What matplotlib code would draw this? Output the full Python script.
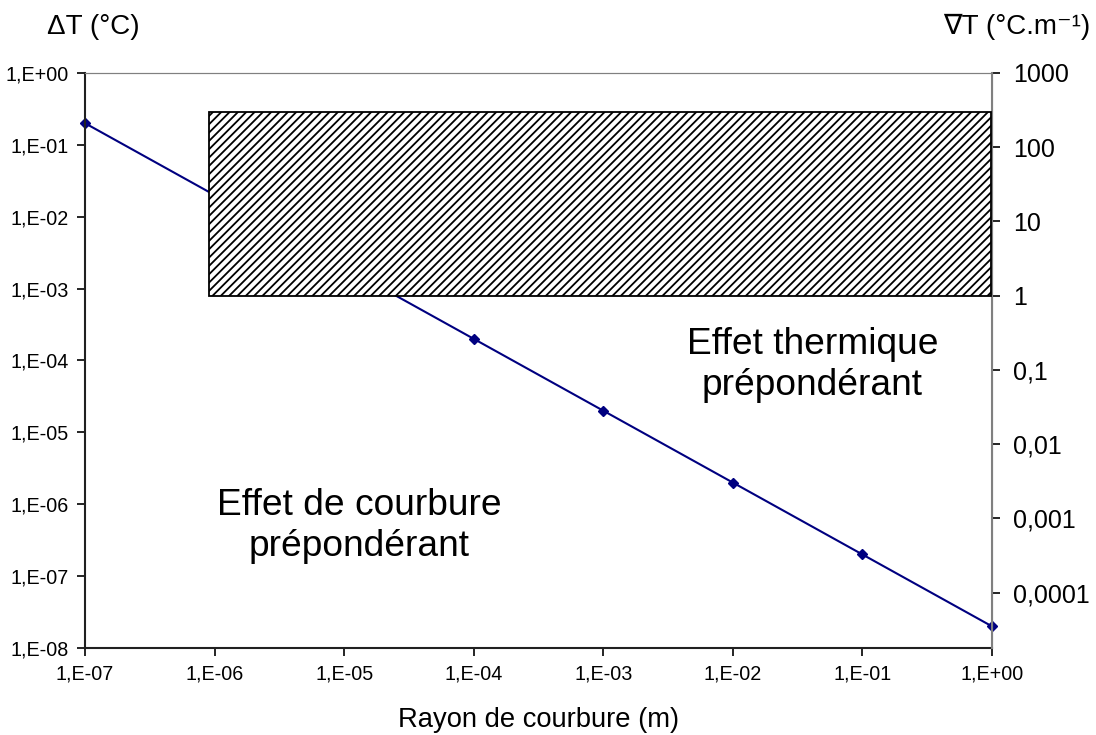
import numpy as np
import matplotlib
matplotlib.use("Agg")
import matplotlib.pyplot as plt
from matplotlib.ticker import FixedLocator, FuncFormatter, NullLocator
from matplotlib.patches import Rectangle

plt.rcParams['font.family'] = ['Liberation Sans', 'DejaVu Sans']
plt.rcParams['hatch.linewidth'] = 1.3
plt.rcParams['hatch.color'] = '#404040'

# data
rayon = [1e-7, 1e-6, 1e-5, 1e-4, 1e-3, 1e-2, 1e-1, 1e0]
delta_t = [2e-1, 2e-2, 2e-3, 2e-4, 2e-5, 2e-6, 2e-7, 2e-8]
left_ticks = [1e0, 1e-1, 1e-2, 1e-3, 1e-4, 1e-5, 1e-6, 1e-7, 1e-8]
right_ticks = [1000, 100, 10, 1, 0.1, 0.01, 0.001, 0.0001]
right_labels = ['1000', '100', '10', '1', '0,1', '0,01', '0,001', '0,0001']
zone_x = [9e-7, 1e0]
zone_grad = [1, 295]


def excel_sci(v, pos):
    e = int(round(np.log10(v)))
    return f"1,E{e:+03d}"


fig = plt.figure(figsize=(10.96, 7.35), dpi=100)
ax = fig.add_axes([0.0776, 0.1184, 0.8275, 0.7823])
ax.set_xscale('log')
ax.set_yscale('log')
ax.set_xlim(1e-7, 1e0)
ax.set_ylim(1e-8, 1e0)

ax.plot(rayon, delta_t, color='#000080', lw=1.5, marker='D', ms=5.5,
        zorder=2, clip_on=False)

ax.xaxis.set_major_locator(FixedLocator(rayon))
ax.xaxis.set_minor_locator(NullLocator())
ax.xaxis.set_major_formatter(FuncFormatter(excel_sci))
ax.yaxis.set_major_locator(FixedLocator(left_ticks))
ax.yaxis.set_minor_locator(NullLocator())
ax.yaxis.set_major_formatter(FuncFormatter(excel_sci))
ax.tick_params(direction='out', length=6, width=1.2, labelsize=14.2, pad=6)

for side in ['left', 'bottom']:
    ax.spines[side].set_color('#202020')
    ax.spines[side].set_linewidth(1.5)
ax.spines['top'].set_color('#808080')
ax.spines['right'].set_color('#808080')

ax2 = ax.twinx()
ax2.set_yscale('log')
ax2.set_ylim(1.8e-5, 1000)
ax2.yaxis.set_major_locator(FixedLocator(right_ticks))
ax2.yaxis.set_minor_locator(NullLocator())
ax2.set_yticklabels(right_labels)
ax2.tick_params(direction='out', length=6, width=1.2, labelsize=18, pad=9)
ax2.spines['right'].set_color('#808080')
ax2.spines['right'].set_linewidth(1.5)
ax2.spines['top'].set_color('#808080')
ax2.spines['left'].set_visible(False)
ax2.spines['bottom'].set_visible(False)

ax2.add_patch(Rectangle((zone_x[0], zone_grad[0]), zone_x[1] * 0.985 - zone_x[0],
                        zone_grad[1] - zone_grad[0], facecolor='white',
                        edgecolor='black', lw=1.3, hatch='////', zorder=3))

ax.text(0.5, -0.125, 'Rayon de courbure (m)', transform=ax.transAxes,
        ha='center', va='center', fontsize=19.7)
fig.text(0.085, 0.963, 'ΔT (°C)', ha='center', va='center', fontsize=20)
fig.text(0.995, 0.963, '∇T (°C.m⁻¹)', ha='right', va='center', fontsize=20)

ax.text(4.1e-2, 8.7e-5, 'Effet thermique\nprépondérant', ha='center', va='center',
        fontsize=26.7, linespacing=1.2)
ax.text(1.3e-5, 5.0e-7, 'Effet de courbure\nprépondérant', ha='center',
        va='center', fontsize=26.7, linespacing=1.2)

fig.savefig('out.png', dpi=100)
